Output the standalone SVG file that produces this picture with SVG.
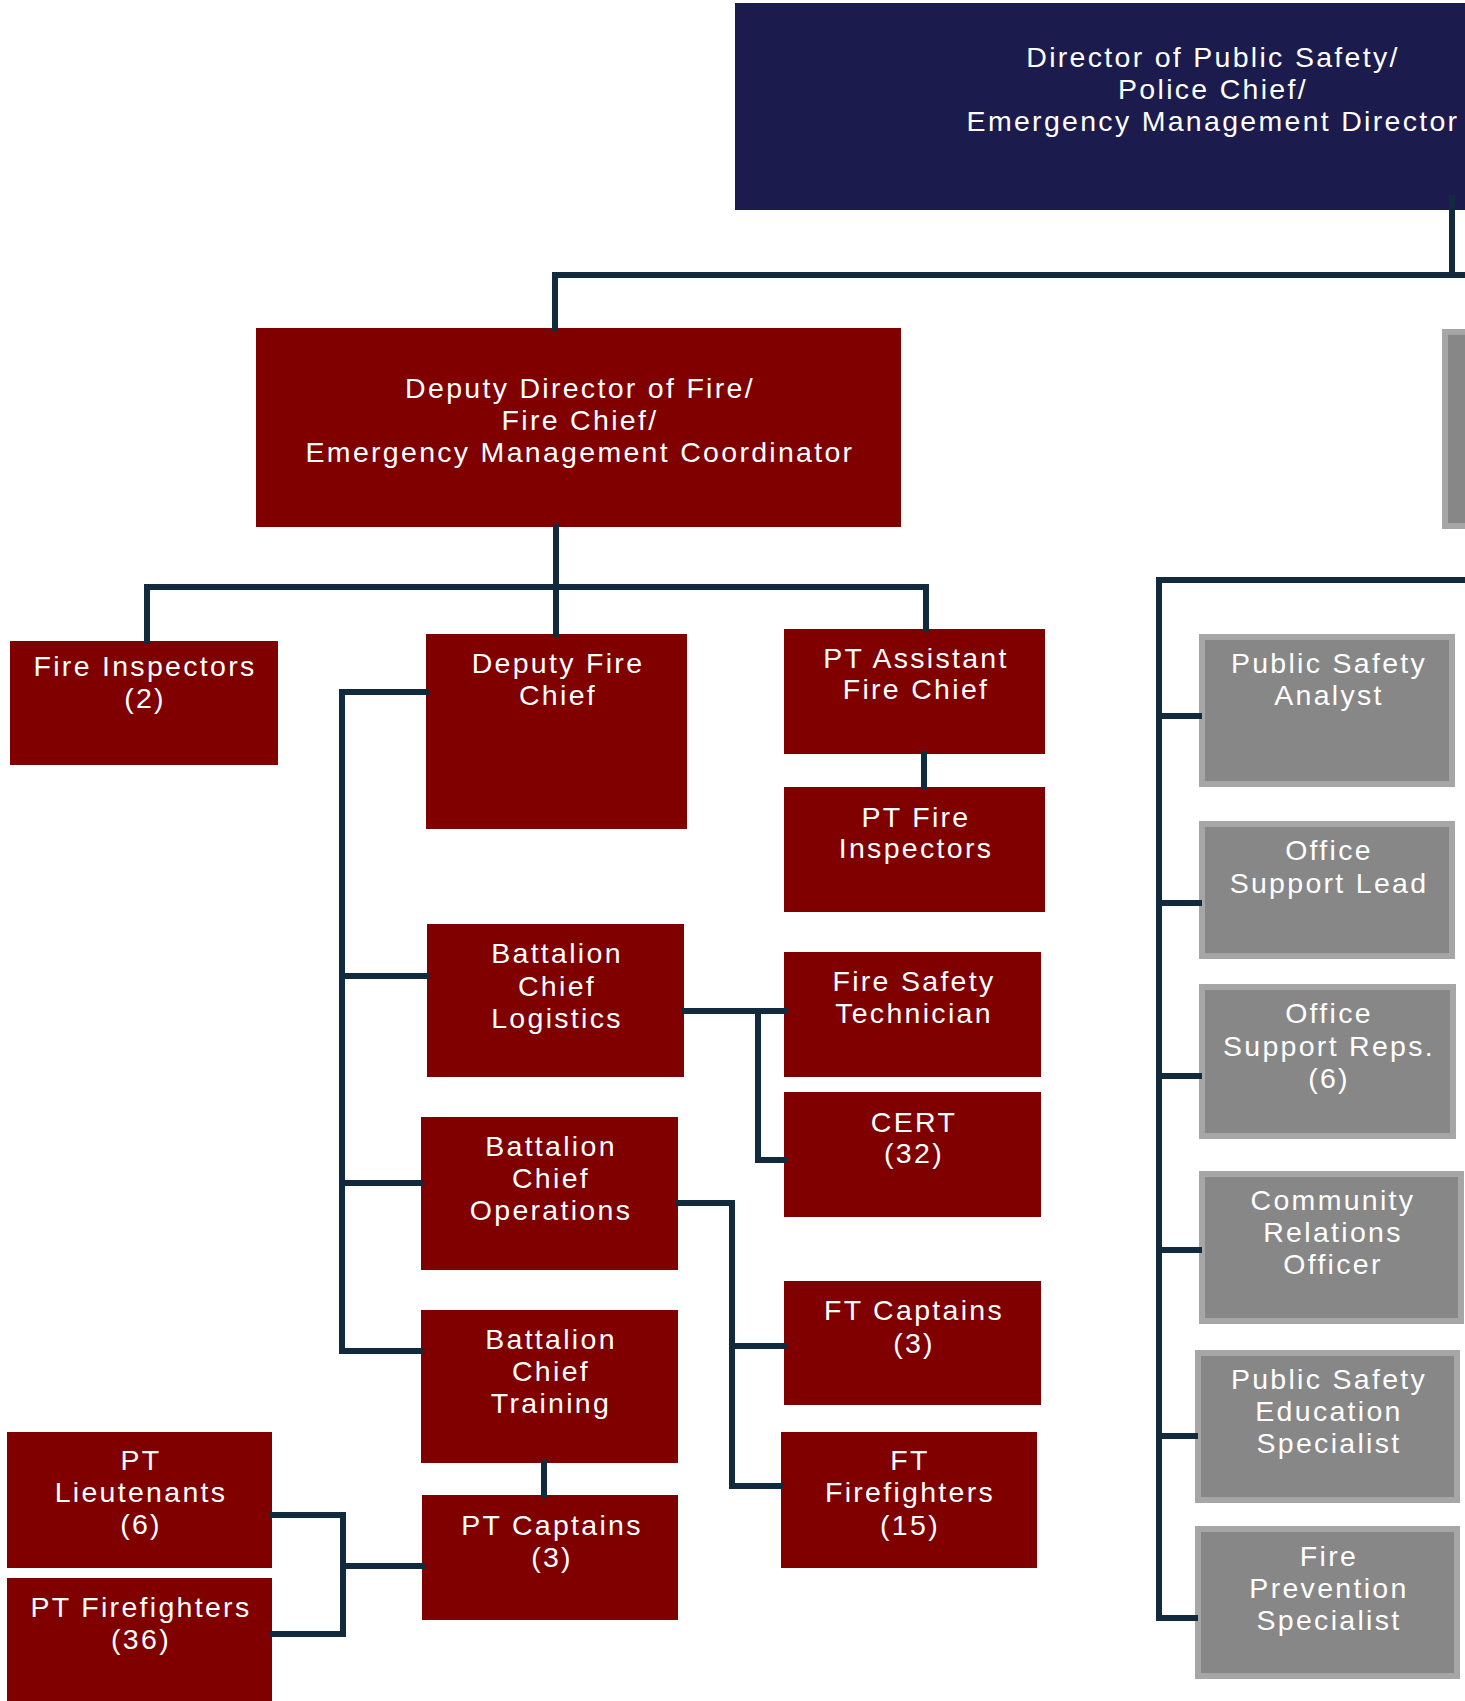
<svg xmlns="http://www.w3.org/2000/svg" width="1465" height="1701" viewBox="0 0 1465 1701">
<style>
.red{fill:#800000}
.navy{fill:#1c1b4d}
.gout{fill:#a6a6a6}
.gin{fill:#878787}
.t{font-family:"Liberation Sans",Arial,sans-serif;font-size:28.5px;fill:#ffffff;text-anchor:middle;letter-spacing:2.3px}
.c{fill:none;stroke:#112a3d;stroke-width:6;stroke-linejoin:miter;stroke-linecap:square}
</style>
<rect width="1465" height="1701" fill="#ffffff"/>

<g id="director">
<rect class="navy" x="735" y="3" width="730" height="207"/>
<text class="t"><tspan x="1213" y="67">Director of Public Safety/</tspan><tspan x="1213" y="99">Police Chief/</tspan><tspan x="1213" y="131">Emergency Management Director</tspan></text>
</g>

<g id="deputy-director">
<rect class="red" x="256" y="328" width="645" height="199"/>
<text class="t"><tspan x="580" y="398">Deputy Director of Fire/</tspan><tspan x="580" y="430">Fire Chief/</tspan><tspan x="580" y="462">Emergency Management Coordinator</tspan></text>
</g>

<g id="fire-inspectors">
<rect class="red" x="10" y="641" width="268" height="124"/>
<text class="t"><tspan x="145" y="676">Fire Inspectors</tspan><tspan x="145" y="708">(2)</tspan></text>
</g>

<g id="deputy-fire-chief">
<rect class="red" x="426" y="634" width="261" height="195"/>
<text class="t"><tspan x="558" y="673">Deputy Fire</tspan><tspan x="558" y="705">Chief</tspan></text>
</g>

<g id="pt-assistant-fire-chief">
<rect class="red" x="784" y="629" width="261" height="125"/>
<text class="t"><tspan x="916" y="668">PT Assistant</tspan><tspan x="916" y="699">Fire Chief</tspan></text>
</g>

<g id="pt-fire-inspectors">
<rect class="red" x="784" y="787" width="261" height="125"/>
<text class="t"><tspan x="916" y="827">PT Fire</tspan><tspan x="916" y="858">Inspectors</tspan></text>
</g>

<g id="bc-logistics">
<rect class="red" x="427" y="924" width="257" height="153"/>
<text class="t"><tspan x="557" y="963">Battalion</tspan><tspan x="557" y="996">Chief</tspan><tspan x="557" y="1028">Logistics</tspan></text>
</g>

<g id="fire-safety-technician">
<rect class="red" x="784" y="952" width="257" height="125"/>
<text class="t"><tspan x="914" y="991">Fire Safety</tspan><tspan x="914" y="1023">Technician</tspan></text>
</g>

<g id="cert">
<rect class="red" x="784" y="1092" width="257" height="125"/>
<text class="t"><tspan x="914" y="1132">CERT</tspan><tspan x="914" y="1163">(32)</tspan></text>
</g>

<g id="bc-operations">
<rect class="red" x="421" y="1117" width="257" height="153"/>
<text class="t"><tspan x="551" y="1156">Battalion</tspan><tspan x="551" y="1188">Chief</tspan><tspan x="551" y="1220">Operations</tspan></text>
</g>

<g id="bc-training">
<rect class="red" x="421" y="1310" width="257" height="153"/>
<text class="t"><tspan x="551" y="1349">Battalion</tspan><tspan x="551" y="1381">Chief</tspan><tspan x="551" y="1413">Training</tspan></text>
</g>

<g id="pt-captains">
<rect class="red" x="422" y="1495" width="256" height="125"/>
<text class="t"><tspan x="552" y="1535">PT Captains</tspan><tspan x="552" y="1567">(3)</tspan></text>
</g>

<g id="pt-lieutenants">
<rect class="red" x="7" y="1432" width="265" height="136"/>
<text class="t"><tspan x="141" y="1470">PT</tspan><tspan x="141" y="1502">Lieutenants</tspan><tspan x="141" y="1534">(6)</tspan></text>
</g>

<g id="pt-firefighters">
<rect class="red" x="7" y="1578" width="265" height="123"/>
<text class="t"><tspan x="141" y="1617">PT Firefighters</tspan><tspan x="141" y="1649">(36)</tspan></text>
</g>

<g id="ft-captains">
<rect class="red" x="784" y="1281" width="257" height="124"/>
<text class="t"><tspan x="914" y="1320">FT Captains</tspan><tspan x="914" y="1353">(3)</tspan></text>
</g>

<g id="ft-firefighters">
<rect class="red" x="781" y="1432" width="256" height="136"/>
<text class="t"><tspan x="910" y="1470">FT</tspan><tspan x="910" y="1502">Firefighters</tspan><tspan x="910" y="1535">(15)</tspan></text>
</g>

<g id="gray-top">
<rect class="gout" x="1442" y="329" width="30" height="200"/>
<rect class="gin" x="1448" y="335" width="24" height="188"/>
</g>

<g id="public-safety-analyst">
<rect class="gout" x="1199" y="634" width="256" height="153"/>
<rect class="gin" x="1205" y="640" width="244" height="141"/>
<text class="t"><tspan x="1329" y="673">Public Safety</tspan><tspan x="1329" y="705">Analyst</tspan></text>
</g>

<g id="office-support-lead">
<rect class="gout" x="1199" y="821" width="256" height="138"/>
<rect class="gin" x="1205" y="827" width="244" height="126"/>
<text class="t"><tspan x="1329" y="860">Office</tspan><tspan x="1329" y="893">Support Lead</tspan></text>
</g>

<g id="office-support-reps">
<rect class="gout" x="1199" y="984" width="257" height="155"/>
<rect class="gin" x="1205" y="990" width="245" height="143"/>
<text class="t"><tspan x="1329" y="1023">Office</tspan><tspan x="1329" y="1056">Support Reps.</tspan><tspan x="1329" y="1088">(6)</tspan></text>
</g>

<g id="community-relations-officer">
<rect class="gout" x="1199" y="1171" width="265" height="153"/>
<rect class="gin" x="1205" y="1177" width="253" height="141"/>
<text class="t"><tspan x="1333" y="1210">Community</tspan><tspan x="1333" y="1242">Relations</tspan><tspan x="1333" y="1274">Officer</tspan></text>
</g>

<g id="public-safety-education-specialist">
<rect class="gout" x="1195" y="1350" width="265" height="153"/>
<rect class="gin" x="1201" y="1356" width="253" height="141"/>
<text class="t"><tspan x="1329" y="1389">Public Safety</tspan><tspan x="1329" y="1421">Education</tspan><tspan x="1329" y="1453">Specialist</tspan></text>
</g>

<g id="fire-prevention-specialist">
<rect class="gout" x="1195" y="1526" width="265" height="153"/>
<rect class="gin" x="1201" y="1532" width="253" height="141"/>
<text class="t"><tspan x="1329" y="1566">Fire</tspan><tspan x="1329" y="1598">Prevention</tspan><tspan x="1329" y="1630">Specialist</tspan></text>
</g>

<g id="connectors">
<path class="c" d="M1452 198 V275"/>
<path class="c" d="M555 328 V275 H1468"/>
<path class="c" d="M556 527 V587"/>
<path class="c" d="M147 641 V587 H926 V629"/>
<path class="c" d="M556 587 V634"/>
<path class="c" d="M924 754 V787"/>
<path class="c" d="M426 692 H342 V1351 H421"/>
<path class="c" d="M342 976 H427"/>
<path class="c" d="M342 1183 H421"/>
<path class="c" d="M684 1011 H784"/>
<path class="c" d="M758 1011 V1160 H784"/>
<path class="c" d="M678 1203 H732 V1486 H781"/>
<path class="c" d="M732 1346 H784"/>
<path class="c" d="M544 1463 V1495"/>
<path class="c" d="M422 1566 H343"/>
<path class="c" d="M272 1515 H343 V1634 H272"/>
<path class="c" d="M1468 580 H1159 V1618 H1195"/>
<path class="c" d="M1159 716 H1199"/>
<path class="c" d="M1159 903 H1199"/>
<path class="c" d="M1159 1076 H1199"/>
<path class="c" d="M1159 1250 H1199"/>
<path class="c" d="M1159 1436 H1195"/>
</g>
</svg>
